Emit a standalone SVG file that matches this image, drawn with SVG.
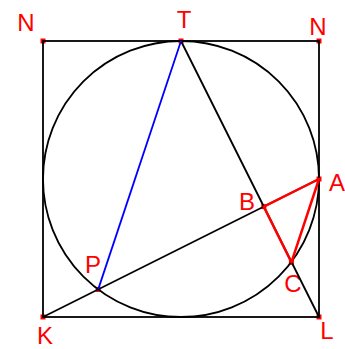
<svg xmlns="http://www.w3.org/2000/svg" width="345" height="349" viewBox="0 0 345 349">
<style>
.pt{fill:#ff0000}
.blk{stroke:#000;stroke-width:1.8;fill:none}
.red{stroke:#ff0000;stroke-width:2.5;fill:none;stroke-linejoin:round}
.blue{stroke:#0000ff;stroke-width:1.8;fill:none}
.lbl{font-family:"Liberation Sans",Arial,sans-serif;font-size:24px;fill:#ff0000;text-anchor:middle}
</style>
<rect width="345" height="349" fill="#fff"/>
<g id="points">
<g id="N1"><rect class="pt" x="40.5" y="38.5" width="5" height="5"/><text class="lbl" x="26" y="31">N</text></g>
<g id="T"><rect class="pt" x="178.5" y="38.5" width="5" height="5"/><text class="lbl" x="184" y="28">T</text></g>
<g id="N2"><rect class="pt" x="316.5" y="38.5" width="5" height="5"/><text class="lbl" x="318" y="35">N</text></g>
<g id="A"><rect class="pt" x="316.5" y="176.5" width="5" height="5"/><text class="lbl" x="337" y="191">A</text></g>
<g id="B"><rect class="pt" x="261.3" y="204.1" width="5" height="5"/><text class="lbl" x="247" y="210">B</text></g>
<g id="C"><rect class="pt" x="288.9" y="259.8" width="5" height="5"/><text class="lbl" x="293" y="292">C</text></g>
<g id="L"><rect class="pt" x="316.5" y="314.5" width="5" height="5"/><text class="lbl" x="327" y="339">L</text></g>
<g id="K"><rect class="pt" x="40.5" y="314.5" width="5" height="5"/><text class="lbl" x="45" y="344">K</text></g>
<g id="P"><rect class="pt" x="95.7" y="286.9" width="5" height="5"/><text class="lbl" x="93" y="273">P</text></g>
</g>
<g id="connectors">
<rect class="blk" x="43" y="41" width="276" height="276"/>
<circle class="blk" cx="181" cy="179" r="138"/>
<line class="blk" x1="181" y1="41" x2="319" y2="317"/>
<line class="blk" x1="43" y1="317" x2="319" y2="179"/>
<line class="blue" x1="181" y1="41" x2="98.2" y2="289.4"/>
<polygon class="red" points="319,179 263.8,206.6 291.4,262.3"/>
</g>
</svg>
